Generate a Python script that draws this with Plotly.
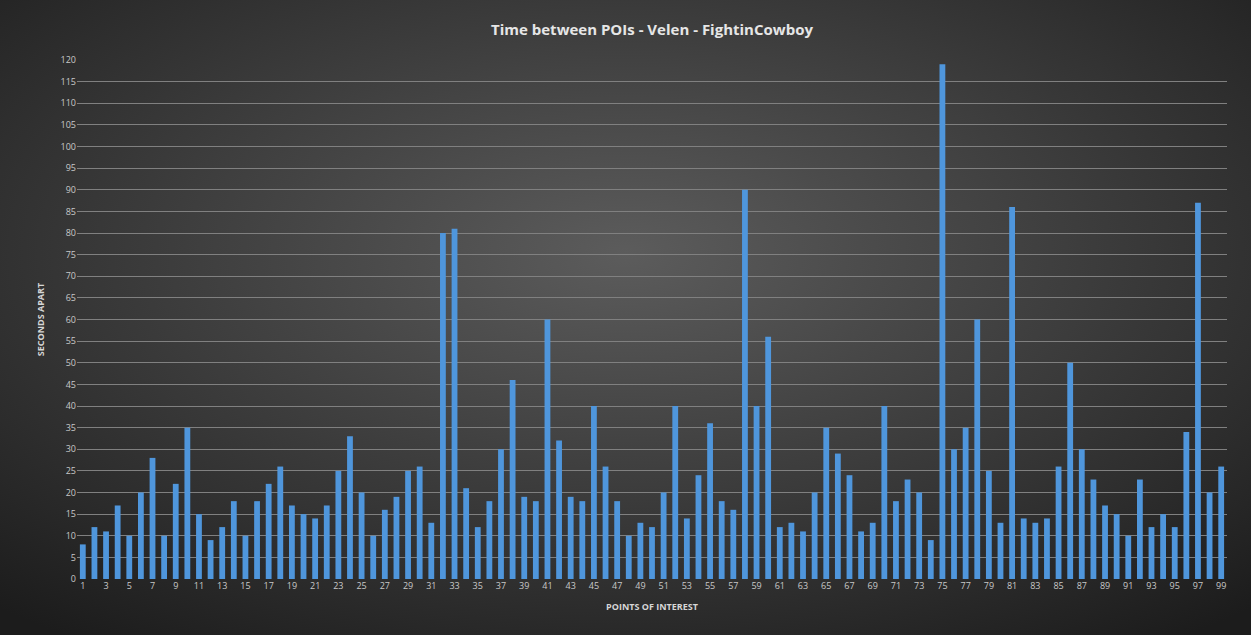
import plotly.graph_objects as go
import urllib.parse

pois = list(range(1, 100))
seconds = [8, 12, 11, 17, 10, 20, 28, 10, 22, 35,
           15, 9, 12, 18, 10, 18, 22, 26, 17, 15,
           14, 17, 25, 33, 20, 10, 16, 19, 25, 26,
           13, 80, 81, 21, 12, 18, 30, 46, 19, 18,
           60, 32, 19, 18, 40, 26, 18, 10, 13, 12,
           20, 40, 14, 24, 36, 18, 16, 90, 40, 56,
           12, 13, 11, 20, 35, 29, 24, 11, 13, 40,
           18, 23, 20, 9, 119, 30, 35, 60, 25, 13,
           86, 14, 13, 14, 26, 50, 30, 23, 17, 15,
           10, 23, 12, 15, 12, 34, 87, 20, 26]
y_ticks = list(range(0, 121, 5))
x_ticks = list(range(1, 100, 2))

title = "Time between POIs - Velen - FightinCowboy"
x_title = "POINTS OF INTEREST"
y_title = "SECONDS APART"

svg = ("<svg xmlns='http://www.w3.org/2000/svg' width='1251' height='635'>"
       "<defs><radialGradient id='g' cx='50%' cy='40%' r='75%'>"
       "<stop offset='0%' stop-color='#5c5c5c'/>"
       "<stop offset='100%' stop-color='#1c1c1c'/>"
       "</radialGradient></defs>"
       "<rect width='1251' height='635' fill='url(#g)'/></svg>")
bg_uri = "data:image/svg+xml;charset=utf-8," + urllib.parse.quote(svg)

fig = go.Figure(go.Bar(
    x=pois, y=seconds,
    marker=dict(color="#4f96dc", line=dict(width=0)),
    hoverinfo="x+y",
))

W, H = 1251, 635
ml, mr, mt, mb = 77, 24, 60, 56
pw, ph = W - ml - mr, H - mt - mb

fig.add_layout_image(dict(
    source=bg_uri, xref="paper", yref="paper",
    x=-ml / pw, y=1 + mt / ph, sizex=W / pw, sizey=H / ph,
    xanchor="left", yanchor="top", sizing="stretch", layer="below",
))

font_fam = "Open Sans, Lato, sans-serif"
fig.update_layout(
    width=W, height=H,
    margin=dict(l=ml, r=mr, t=mt, b=mb),
    paper_bgcolor="#2e2e2e",
    plot_bgcolor="rgba(0,0,0,0)",
    bargap=0.5,
    showlegend=False,
    title=dict(text="<b>" + title + "</b>", x=0.5, xref="paper", y=1 - 30 / H,
               yanchor="middle",
               font=dict(family=font_fam, size=15, color="#e6e6e6")),
    xaxis=dict(
        range=[0.5, 99.5], tickmode="array", tickvals=x_ticks,
        ticktext=[str(v) for v in x_ticks],
        tickfont=dict(family=font_fam, size=9, color="#c8c8c8"),
        showgrid=False, zeroline=False, showline=False, ticks="",
        ticklen=6, tickcolor="rgba(0,0,0,0)",
        title=dict(text="<b>" + x_title + "</b>", standoff=12,
                   font=dict(family=font_fam, size=9, color="#d6d6d6")),
    ),
    yaxis=dict(
        range=[0, 120], tickmode="array", tickvals=y_ticks,
        ticktext=[str(v) for v in y_ticks],
        tickfont=dict(family=font_fam, size=9, color="#c8c8c8"),
        showgrid=True, gridcolor="#808080", gridwidth=1,
        zeroline=False, showline=False, ticks="",
        title=dict(text="<b>" + y_title + "</b>", standoff=14,
                   font=dict(family=font_fam, size=9, color="#d6d6d6")),
    ),
)

fig.write_html("out.html")
